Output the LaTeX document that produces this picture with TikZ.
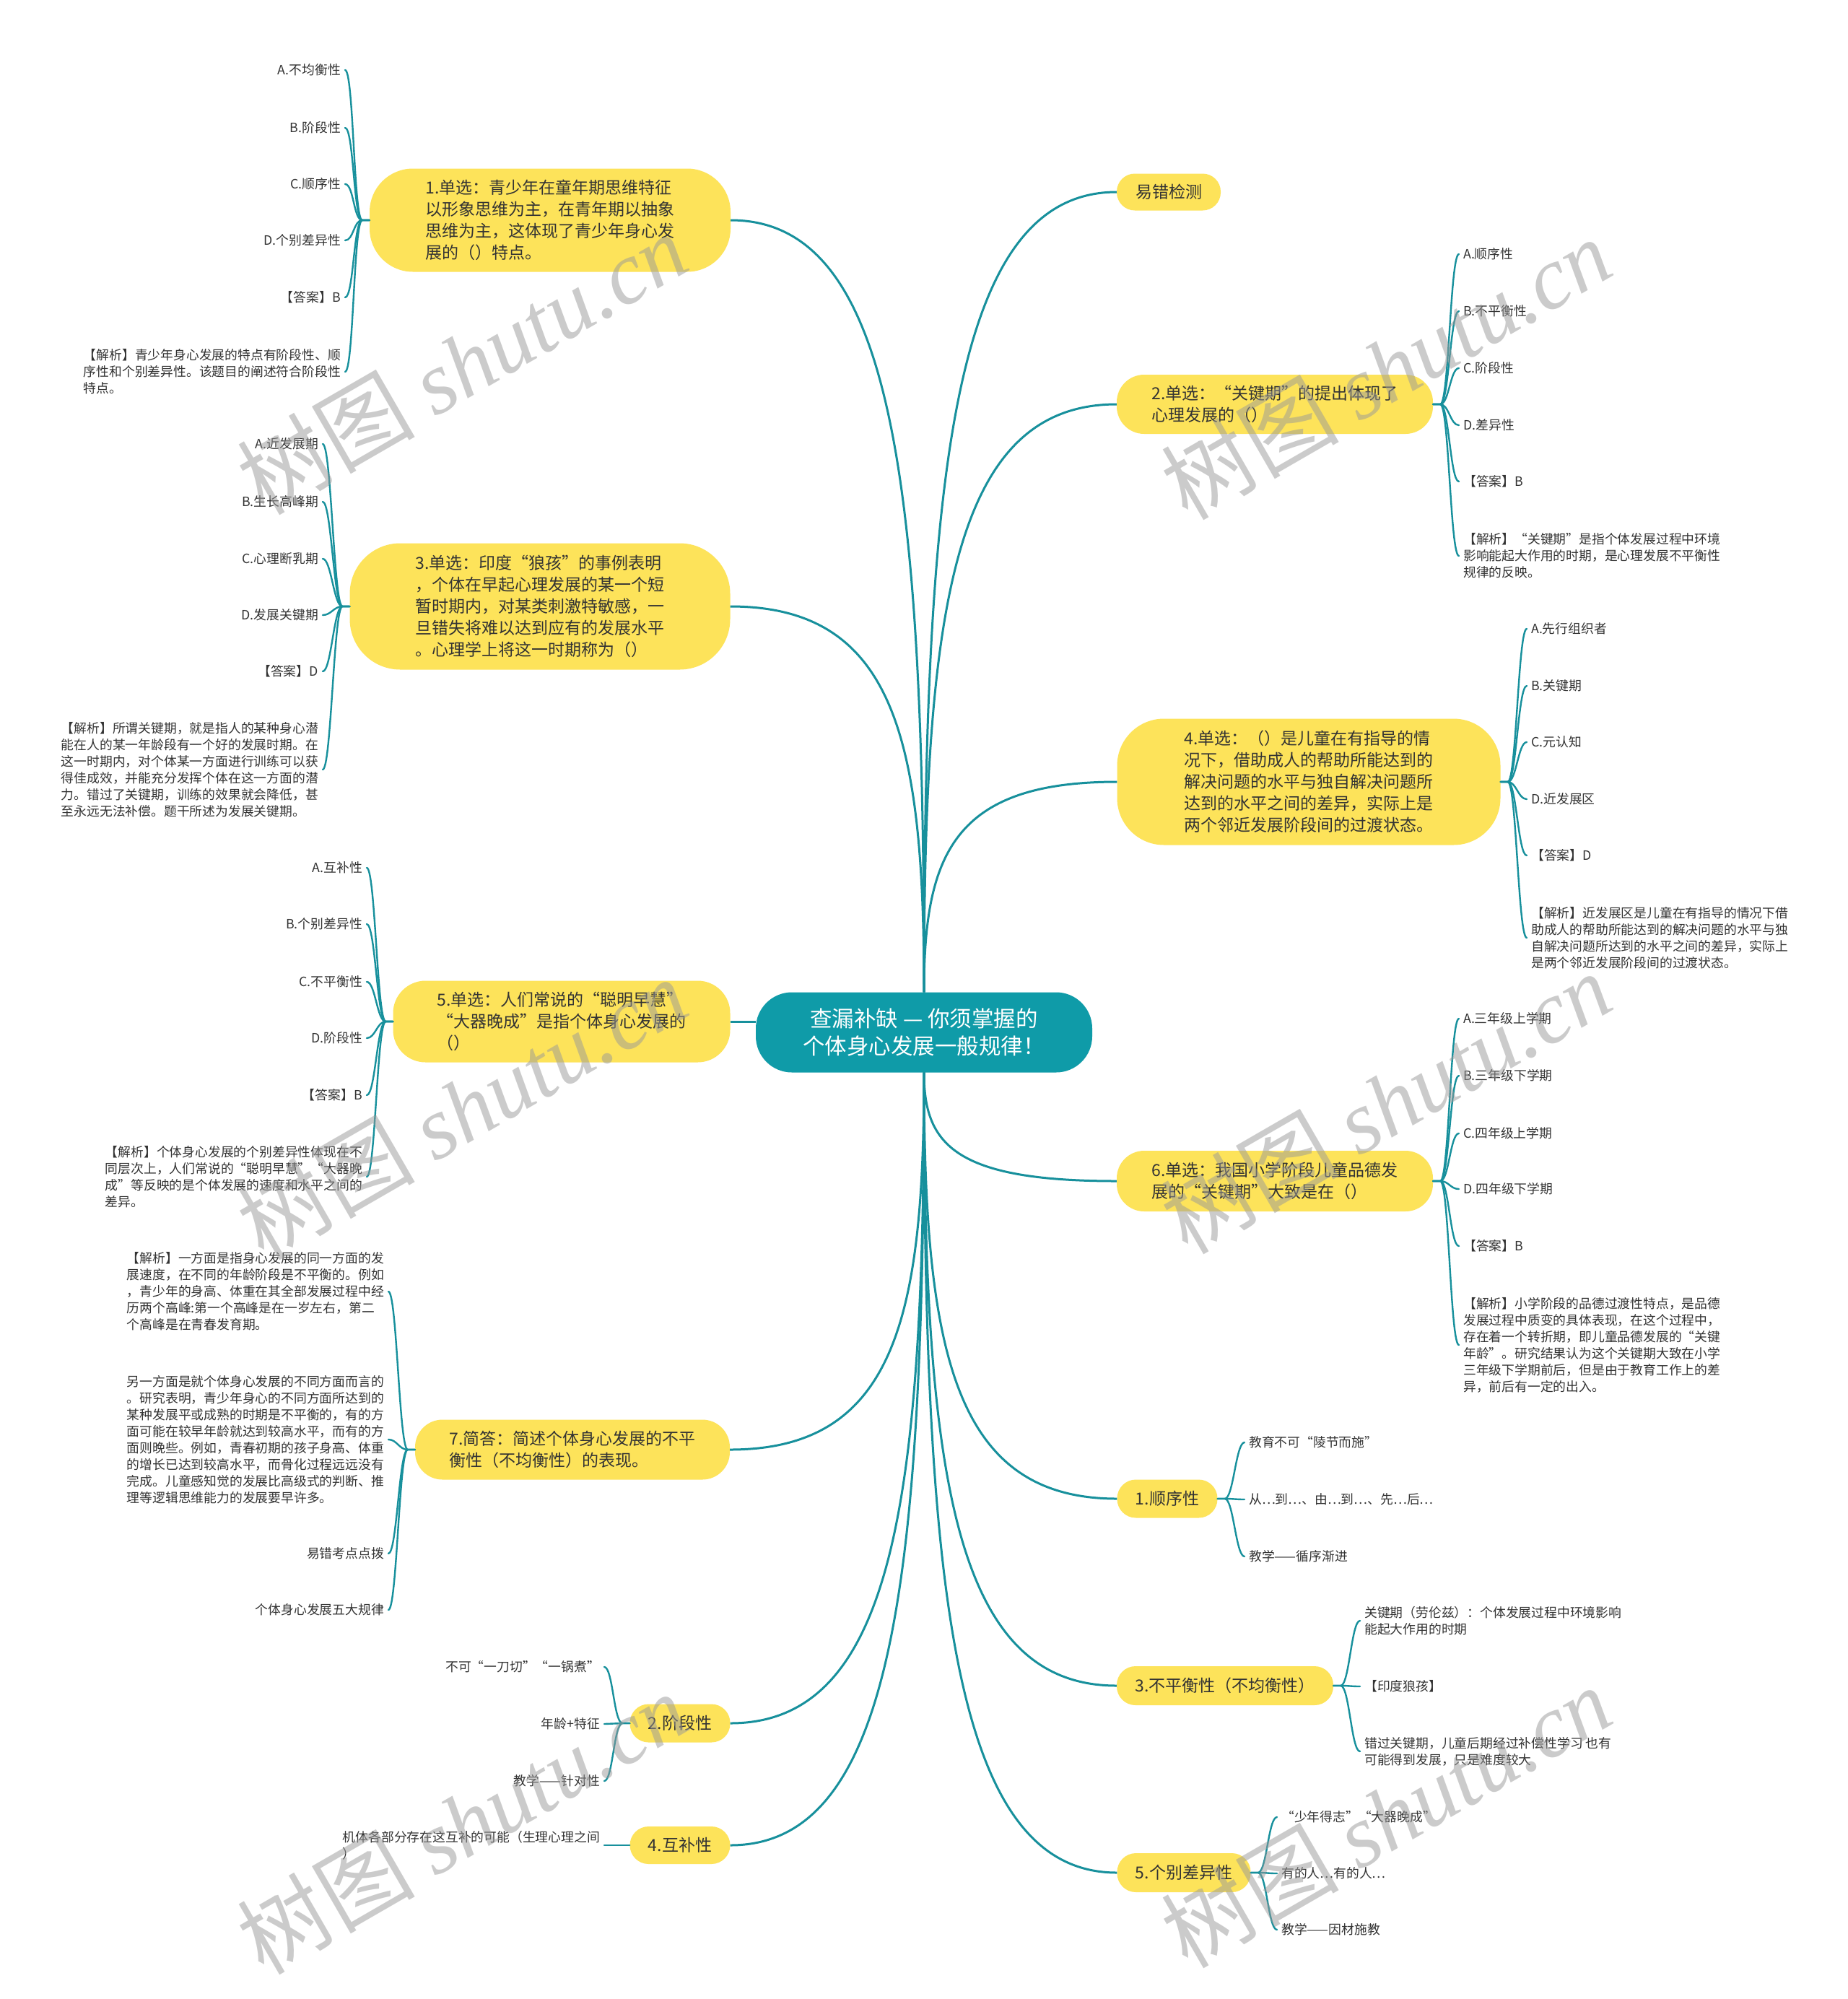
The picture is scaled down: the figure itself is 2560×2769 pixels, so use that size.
\documentclass[tikz,border=0pt]{standalone}
\usepackage{fontspec}
\setmainfont{Noto Sans CJK SC}
\newfontfamily\wmlatin{Liberation Serif}
\usetikzlibrary{calc}
\definecolor{tealc}{HTML}{0F9BA8}
\definecolor{tealline}{HTML}{17909C}
\definecolor{yel}{HTML}{FDE35A}
\definecolor{ink}{HTML}{333333}
\begin{document}
\begin{tikzpicture}[x=1pt,y=-1pt,
  mainnode/.style={fill=yel, text=ink, font=\fontsize{23}{30}\selectfont, align=left, inner sep=0pt},
  centernode/.style={fill=tealc, text=white, font=\fontsize{30.5}{38}\selectfont, align=center, inner sep=0pt},
  leaf/.style={inner sep=0pt, text=ink, font=\fontsize{17.8}{23}\selectfont, align=left},
  mainc/.style={draw=tealline, line width=3pt},
  leafc/.style={draw=tealline, line width=2.4pt, line cap=round},
  wm/.style={rotate=30, text=black!40, opacity=0.5, font=\fontsize{123}{130}\selectfont}
]
\fill[white] (0,0) rectangle (2560,2769);
\useasboundingbox (0,0) rectangle (2560,2769);

% ---------- main nodes ----------
\node[centernode, minimum width=466pt, minimum height=111pt, rounded corners=50pt] (C) at (1280,1430)
  {查漏补缺 — 你须掌握的\\个体身心发展一般规律！};

\node[mainnode, minimum width=500pt, minimum height=143pt, rounded corners=60pt] (L1) at (762,305)
  {1.单选：青少年在童年期思维特征\\以形象思维为主，在青年期以抽象\\思维为主，这体现了青少年身心发\\展的（）特点。};
\node[mainnode, minimum width=527pt, minimum height=175pt, rounded corners=70pt] (L3) at (748,840)
  {3.单选：印度“狼孩”的事例表明\\，个体在早起心理发展的某一个短\\暂时期内，对某类刺激特敏感，一\\旦错失将难以达到应有的发展水平\\。心理学上将这一时期称为（）};
\node[mainnode, minimum width=467pt, minimum height=113pt, rounded corners=45pt] (L5) at (778,1415)
  {5.单选：人们常说的“聪明早慧”\\“大器晚成”是指个体身心发展的\\（）};
\node[mainnode, minimum width=436pt, minimum height=83pt, rounded corners=38pt] (L7) at (793,2008)
  {7.简答：简述个体身心发展的不平\\衡性（不均衡性）的表现。};
\node[mainnode, minimum width=139pt, minimum height=53pt, rounded corners=26pt] (L2) at (942,2387) {2.阶段性};
\node[mainnode, minimum width=139pt, minimum height=52pt, rounded corners=26pt] (L4) at (942,2556) {4.互补性};

\node[mainnode, minimum width=144pt, minimum height=51pt, rounded corners=25pt] (RY) at (1619,266) {易错检测};
\node[mainnode, minimum width=438pt, minimum height=82pt, rounded corners=38pt] (R2) at (1766,560)
  {2.单选：“关键期”的提出体现了\\心理发展的（）};
\node[mainnode, minimum width=531pt, minimum height=175pt, rounded corners=65pt] (R4) at (1813,1083)
  {4.单选：（）是儿童在有指导的情\\况下，借助成人的帮助所能达到的\\解决问题的水平与独自解决问题所\\达到的水平之间的差异，实际上是\\两个邻近发展阶段间的过渡状态。};
\node[mainnode, minimum width=438pt, minimum height=84pt, rounded corners=38pt] (R6) at (1766,1636)
  {6.单选：我国小学阶段儿童品德发\\展的“关键期”大致是在（）};
\node[mainnode, minimum width=139pt, minimum height=53pt, rounded corners=26pt] (R1) at (1617,2076) {1.顺序性};
\node[mainnode, minimum width=300pt, minimum height=54pt, rounded corners=26pt] (R3) at (1697,2335) {3.不平衡性（不均衡性）};
\node[mainnode, minimum width=185pt, minimum height=54pt, rounded corners=26pt] (R5) at (1640,2594) {5.个别差异性};

% ---------- main connectors ----------
\draw[mainc] (L1.east) .. controls +(228,0) and +(0,-696) .. (C.north);
\draw[mainc] (L3.east) .. controls +(229,0) and +(0,-348) .. (C.north);
\draw[mainc] (L5.east) -- (L5.east -| C.west);
\draw[mainc] (L7.east) .. controls +(229,0) and +(0,339) .. (C.south);
\draw[mainc] (L2.east) .. controls +(228,0) and +(0,586) .. (C.south);
\draw[mainc] (L4.east) .. controls +(228,0) and +(0,696) .. (C.south);
\draw[mainc] (RY.west) .. controls +(-227,0) and +(0,-721) .. (C.north);
\draw[mainc] (R2.west) .. controls +(-227,0) and +(0,-530) .. (C.north);
\draw[mainc] (R4.west) .. controls +(-227,0) and +(0,-190) .. (C.north);
\draw[mainc] (R6.west) .. controls +(-227,0) and +(0,98) .. (C.south);
\draw[mainc] (R1.west) .. controls +(-227,0) and +(0,384) .. (C.south);
\draw[mainc] (R3.west) .. controls +(-227,0) and +(0,552) .. (C.south);
\draw[mainc] (R5.west) .. controls +(-227,0) and +(0,720) .. (C.south);

% ---------- leaves: group L1 ----------
\node[leaf, anchor=east] (l1a) at (472,97) {A.不均衡性};
\node[leaf, anchor=east] (l1b) at (472,177) {B.阶段性};
\node[leaf, anchor=east] (l1c) at (472,255) {C.顺序性};
\node[leaf, anchor=east] (l1d) at (472,333) {D.个别差异性};
\node[leaf, anchor=east] (l1e) at (472,412) {【答案】B};
\node[leaf, anchor=east] (l1f) at (472,515) {【解析】青少年身心发展的特点有阶段性、顺\\序性和个别差异性。该题目的阐述符合阶段性\\特点。};
\foreach \c in {l1a,l1b,l1c,l1d,l1e,l1f}
  \draw[leafc] (L1.west) -- ++(-10,0) .. controls +(-12,0) and +(12,0) .. ($(\c.east)+(6,0)$);

% ---------- leaves: group L3 ----------
\node[leaf, anchor=east] (l3a) at (441,615) {A.近发展期};
\node[leaf, anchor=east] (l3b) at (441,695) {B.生长高峰期};
\node[leaf, anchor=east] (l3c) at (441,774) {C.心理断乳期};
\node[leaf, anchor=east] (l3d) at (441,852) {D.发展关键期};
\node[leaf, anchor=east] (l3e) at (441,930) {【答案】D};
\node[leaf, anchor=east] (l3f) at (441,1066) {【解析】所谓关键期，就是指人的某种身心潜\\能在人的某一年龄段有一个好的发展时期。在\\这一时期内，对个体某一方面进行训练可以获\\得佳成效，并能充分发挥个体在这一方面的潜\\力。错过了关键期，训练的效果就会降低，甚\\至永远无法补偿。题干所述为发展关键期。};
\foreach \c in {l3a,l3b,l3c,l3d,l3e,l3f}
  \draw[leafc] (L3.west) -- ++(-10,0) .. controls +(-12,0) and +(12,0) .. ($(\c.east)+(6,0)$);

% ---------- leaves: group L5 ----------
\node[leaf, anchor=east] (l5a) at (502,1202) {A.互补性};
\node[leaf, anchor=east] (l5b) at (502,1280) {B.个别差异性};
\node[leaf, anchor=east] (l5c) at (502,1360) {C.不平衡性};
\node[leaf, anchor=east] (l5d) at (502,1438) {D.阶段性};
\node[leaf, anchor=east] (l5e) at (502,1517) {【答案】B};
\node[leaf, anchor=east] (l5f) at (502,1630) {【解析】个体身心发展的个别差异性体现在不\\同层次上，人们常说的“聪明早慧”“大器晚\\成”等反映的是个体发展的速度和水平之间的\\差异。};
\foreach \c in {l5a,l5b,l5c,l5d,l5e,l5f}
  \draw[leafc] (L5.west) -- ++(-10,0) .. controls +(-12,0) and +(12,0) .. ($(\c.east)+(6,0)$);

% ---------- leaves: group L7 ----------
\node[leaf, anchor=east] (l7a) at (532,1789) {【解析】一方面是指身心发展的同一方面的发\\展速度，在不同的年龄阶段是不平衡的。例如\\，青少年的身高、体重在其全部发展过程中经\\历两个高峰:第一个高峰是在一岁左右，第二\\个高峰是在青春发育期。};
\node[leaf, anchor=east] (l7b) at (532,1994) {另一方面是就个体身心发展的不同方面而言的\\。研究表明，青少年身心的不同方面所达到的\\某种发展平或成熟的时期是不平衡的，有的方\\面可能在较早年龄就达到较高水平，而有的方\\面则晚些。例如，青春初期的孩子身高、体重\\的增长已达到较高水平，而骨化过程远远没有\\完成。儿童感知觉的发展比高级式的判断、推\\理等逻辑思维能力的发展要早许多。};
\node[leaf, anchor=east] (l7c) at (532,2152) {易错考点点拨};
\node[leaf, anchor=east] (l7d) at (532,2230) {个体身心发展五大规律};
\foreach \c in {l7a,l7b,l7c,l7d}
  \draw[leafc] (L7.west) -- ++(-10,0) .. controls +(-12,0) and +(12,0) .. ($(\c.east)+(6,0)$);

% ---------- leaves: group L2 ----------
\node[leaf, anchor=east] (l2a) at (831,2309) {不可“一刀切”“一锅煮”};
\node[leaf, anchor=east] (l2b) at (831,2388) {年龄+特征};
\node[leaf, anchor=east] (l2c) at (831,2467) {教学——针对性};
\foreach \c in {l2a,l2b,l2c}
  \draw[leafc] (L2.west) -- ++(-10,0) .. controls +(-12,0) and +(12,0) .. ($(\c.east)+(6,0)$);

% ---------- leaves: group L4 ----------
\node[leaf, anchor=east] (l4a) at (831,2556) {机体各部分存在这互补的可能（生理心理之间\\）};
\draw[leafc] (L4.west) -- ($(l4a.east)+(6,0)$);

% ---------- leaves: group R2 ----------
\node[leaf, anchor=west] (r2a) at (2027,352) {A.顺序性};
\node[leaf, anchor=west] (r2b) at (2027,431) {B.不平衡性};
\node[leaf, anchor=west] (r2c) at (2027,510) {C.阶段性};
\node[leaf, anchor=west] (r2d) at (2027,589) {D.差异性};
\node[leaf, anchor=west] (r2e) at (2027,667) {【答案】B};
\node[leaf, anchor=west] (r2f) at (2027,770) {【解析】“关键期”是指个体发展过程中环境\\影响能起大作用的时期，是心理发展不平衡性\\规律的反映。};
\foreach \c in {r2a,r2b,r2c,r2d,r2e,r2f}
  \draw[leafc] (R2.east) -- ++(10,0) .. controls +(12,0) and +(-12,0) .. ($(\c.west)+(-6,0)$);

% ---------- leaves: group R4 ----------
\node[leaf, anchor=west] (r4a) at (2121,871) {A.先行组织者};
\node[leaf, anchor=west] (r4b) at (2121,950) {B.关键期};
\node[leaf, anchor=west] (r4c) at (2121,1028) {C.元认知};
\node[leaf, anchor=west] (r4d) at (2121,1107) {D.近发展区};
\node[leaf, anchor=west] (r4e) at (2121,1185) {【答案】D};
\node[leaf, anchor=west] (r4f) at (2121,1299) {【解析】近发展区是儿童在有指导的情况下借\\助成人的帮助所能达到的解决问题的水平与独\\自解决问题所达到的水平之间的差异，实际上\\是两个邻近发展阶段间的过渡状态。};
\foreach \c in {r4a,r4b,r4c,r4d,r4e,r4f}
  \draw[leafc] (R4.east) -- ++(10,0) .. controls +(12,0) and +(-12,0) .. ($(\c.west)+(-6,0)$);

% ---------- leaves: group R6 ----------
\node[leaf, anchor=west] (r6a) at (2027,1411) {A.三年级上学期};
\node[leaf, anchor=west] (r6b) at (2027,1490) {B.三年级下学期};
\node[leaf, anchor=west] (r6c) at (2027,1570) {C.四年级上学期};
\node[leaf, anchor=west] (r6d) at (2027,1647) {D.四年级下学期};
\node[leaf, anchor=west] (r6e) at (2027,1726) {【答案】B};
\node[leaf, anchor=west] (r6f) at (2027,1863) {【解析】小学阶段的品德过渡性特点，是品德\\发展过程中质变的具体表现，在这个过程中，\\存在着一个转折期，即儿童品德发展的“关键\\年龄”。研究结果认为这个关键期大致在小学\\三年级下学期前后，但是由于教育工作上的差\\异，前后有一定的出入。};
\foreach \c in {r6a,r6b,r6c,r6d,r6e,r6f}
  \draw[leafc] (R6.east) -- ++(10,0) .. controls +(12,0) and +(-12,0) .. ($(\c.west)+(-6,0)$);

% ---------- leaves: group R1 ----------
\node[leaf, anchor=west] (r1a) at (1730,1998) {教育不可“陵节而施”};
\node[leaf, anchor=west] (r1b) at (1730,2077) {从…到…、由…到…、先…后…};
\node[leaf, anchor=west] (r1c) at (1730,2156) {教学——循序渐进};
\foreach \c in {r1a,r1b,r1c}
  \draw[leafc] (R1.east) -- ++(10,0) .. controls +(12,0) and +(-12,0) .. ($(\c.west)+(-6,0)$);

% ---------- leaves: group R3 ----------
\node[leaf, anchor=west] (r3a) at (1890,2245) {关键期（劳伦兹）：个体发展过程中环境影响\\能起大作用的时期};
\node[leaf, anchor=west] (r3b) at (1890,2336) {【印度狼孩】};
\node[leaf, anchor=west] (r3c) at (1890,2426) {错过关键期，儿童后期经过补偿性学习 也有\\可能得到发展，只是难度较大};
\foreach \c in {r3a,r3b,r3c}
  \draw[leafc] (R3.east) -- ++(10,0) .. controls +(12,0) and +(-12,0) .. ($(\c.west)+(-6,0)$);

% ---------- leaves: group R5 ----------
\node[leaf, anchor=west] (r5a) at (1775,2517) {“少年得志”“大器晚成”};
\node[leaf, anchor=west] (r5b) at (1775,2595) {有的人…有的人…};
\node[leaf, anchor=west] (r5c) at (1775,2673) {教学——因材施教};
\foreach \c in {r5a,r5b,r5c}
  \draw[leafc] (R5.east) -- ++(10,0) .. controls +(12,0) and +(-12,0) .. ($(\c.west)+(-6,0)$);

% ---------- watermarks ----------
\foreach \p in {(640,503),(1920,510),(640,1535),(1920,1527),(640,2525),(1920,2516)}
  \node[wm] at \p {树图 {\wmlatin\itshape shutu.cn}};
\end{tikzpicture}
\end{document}
